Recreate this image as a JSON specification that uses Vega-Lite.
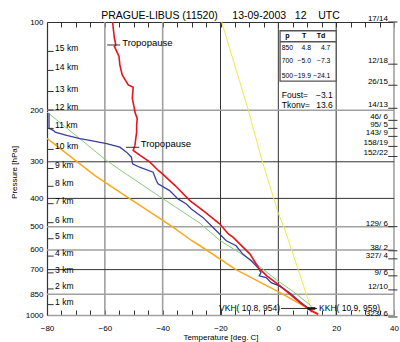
{
  "$schema": "https://vega.github.io/schema/vega-lite/v6.json",
  "width": 347,
  "height": 293,
  "autosize": {"type": "none"},
  "padding": {"left": 47, "top": 22, "right": 6, "bottom": 27},
  "background": "white",
  "config": {"view": {"stroke": null}, "font": "Liberation Sans", "text": {"font": "Liberation Sans", "color": "#000"}},
  "title": {"text": "PRAGUE-LIBUS (11520)\u00a0\u00a0\u00a0\u00a0\u00a013-09-2003\u00a0\u00a0\u00a012\u00a0\u00a0\u00a0\u00a0UTC", "fontSize": 10.5, "fontWeight": "normal", "font": "Liberation Sans", "color": "#000", "offset": -6, "frame": "group", "anchor": "middle"},
  "datasets": {
    "vg": [{"t": -60}, {"t": -40}, {"t": 40}],
    "vd": [{"t": -20}, {"t": 0}, {"t": 20}],
    "hg": [{"p": 200}, {"p": 500}, {"p": 600}, {"p": 850}],
    "hd": [{"p": 300}, {"p": 400}, {"p": 700}],
    "red": [{"t":-57.3,"p":100},{"t":-57.1,"p":104.8},{"t":-56.7,"p":113.4},{"t":-56.2,"p":119.6},{"t":-56.7,"p":121.1},{"t":-55.9,"p":126},{"t":-55.1,"p":131.1},{"t":-54.8,"p":140},{"t":-54.0,"p":151.5},{"t":-51.9,"p":163.9},{"t":-50.2,"p":167},{"t":-50.5,"p":182},{"t":-49.8,"p":197},{"t":-49.6,"p":202.9},{"t":-48.8,"p":213.7},{"t":-49.0,"p":225.3},{"t":-49.0,"p":237.5},{"t":-49.6,"p":263.8},{"t":-50.2,"p":274.4},{"t":-47.8,"p":285.4},{"t":-44.4,"p":300.9},{"t":-41.5,"p":321.2},{"t":-39.8,"p":331.6},{"t":-35.7,"p":361.6},{"t":-30.6,"p":406.9},{"t":-26.0,"p":440.5},{"t":-20.2,"p":489.2},{"t":-17.3,"p":529.2},{"t":-15.6,"p":543.6},{"t":-9.8,"p":619.7},{"t":-6.9,"p":688.6},{"t":-4.0,"p":735.2},{"t":0.6,"p":795.6},{"t":4.0,"p":849.4},{"t":7.5,"p":907.7},{"t":11.5,"p":969},{"t":13.8,"p":994.5}],
    "blue": [{"t":-79.3,"p":205},{"t":-79.3,"p":230.7},{"t":-77.8,"p":234.4},{"t":-77.2,"p":237.5},{"t":-73.2,"p":243.8},{"t":-68.6,"p":250.2},{"t":-65.2,"p":253.6},{"t":-59.4,"p":260.3},{"t":-54.8,"p":267.4},{"t":-52.5,"p":278.1},{"t":-50.8,"p":289.3},{"t":-50.4,"p":304.8},{"t":-48.0,"p":313.1},{"t":-43.3,"p":325.6},{"t":-42.2,"p":347.6},{"t":-41.6,"p":356.8},{"t":-37.6,"p":376.1},{"t":-34.7,"p":401.6},{"t":-31.8,"p":417.8},{"t":-30.1,"p":434.5},{"t":-26.1,"p":464.3},{"t":-23.2,"p":495.8},{"t":-20.3,"p":529.2},{"t":-18.0,"p":557.9},{"t":-14.6,"p":580.3},{"t":-12.3,"p":619.7},{"t":-9.4,"p":653.4},{"t":-7.1,"p":688.6},{"t":-6.0,"p":716.3},{"t":-6.6,"p":735.2},{"t":-4.2,"p":745.3},{"t":-2.5,"p":775.2},{"t":0.3,"p":795.6},{"t":3.8,"p":838.7},{"t":7.2,"p":895.6},{"t":10.7,"p":956.1},{"t":11.7,"p":976.5}],
    "green": [{"t":-80,"p":203},{"t":-59.4,"p":296.9},{"t":-54.8,"p":319.5},{"t":-41.0,"p":394.4},{"t":-27.1,"p":486},{"t":-20.2,"p":557},{"t":-8.6,"p":656.9},{"t":-0.6,"p":759.5},{"t":5.2,"p":832.6},{"t":11.0,"p":924.6},{"t":12.0,"p":960}],
    "orange": [{"t":-80,"p":249.3},{"t":-63.4,"p":334.2},{"t":-54.7,"p":381.3},{"t":-36.3,"p":502.3},{"t":-29.9,"p":557.9},{"t":-27.1,"p":580.3},{"t":-14.5,"p":701},{"t":0.6,"p":838.7},{"t":13.3,"p":986.8},{"t":13.6,"p":1000}],
    "yellow": [{"t":-19.6,"p":100},{"t":-10.4,"p":199.7},{"t":-5.7,"p":295.8},{"t":0,"p":449.6},{"t":2.3,"p":512.8},{"t":11.0,"p":930}],
    "km": [{"label":"15 km","p":126.0},{"label":"14 km","p":146.3},{"label":"13 km","p":172.7},{"label":"12 km","p":199.7},{"label":"11 km","p":230.7},{"label":"10 km","p":272.2},{"label":"9 km","p":316.2},{"label":"8 km","p":363.7},{"label":"7 km","p":416.9},{"label":"6 km","p":484.1},{"label":"5 km","p":549.2},{"label":"4 km","p":629.5},{"label":"3 km","p":718.1},{"label":"2 km","p":814.7},{"label":"1 km","p":921.7}],
    "wind": [{"label":"17/14","p":100},{"label":"12/18","p":139.3},{"label":"26/15","p":164.4},{"label":"14/13","p":197.0},{"label":"46/ 6","p":216.6},{"label":"95/ 5","p":230.7},{"label":"143/ 9","p":245.7},{"label":"158/19","p":265.8},{"label":"152/22","p":287.7},{"label":"129/ 6","p":499.4},{"label":"38/ 2","p":603.7},{"label":"327/ 4","p":643.2},{"label":"9/ 6","p":735.2},{"label":"12/10","p":821.1},{"label":"323/ 6","p":1015.8}],
    "tropo": [{"t1":-59.2,"t2":-54.7,"p":119.8,"tt":-54.0,"pt":118.2},{"t1":-52.7,"t2":-48.1,"p":267.7,"tt":-47.6,"pt":261.5}],
    "box": [{"t1":0.6,"t2":20.0,"p1":107.1,"p2":159.2,"ph":116.8}],
    "head": [{"label":"p","t":3.1},{"label":"T","t":8.9},{"label":"Td","t":14.8}],
    "rowsL": [{"label":"850","p":123.1},{"label":"700","p":136.0},{"label":"500","p":152.7}],
    "colT": [{"label":"4.8","p":123.1},{"label":"\u22125.0","p":136.0},{"label":"\u221219.9","p":152.7}],
    "colTd": [{"label":"4.7","p":123.1},{"label":"\u22127.3","p":136.0},{"label":"\u221224.1","p":152.7}],
    "idxL": [{"label":"Foust=","p":177.8},{"label":"Tkonv=","p":191.3}],
    "idxR": [{"label":"\u22123.1","p":177.8},{"label":"13.6","p":191.3}],
    "kh": [{"t1":0.9,"t2":13.4,"p":950,"m1":10.0,"m2":12.8}],
    "khL": [{"label":"VKH( 10.8, 954)","p":945}],
    "khR": [{"label":"KKH( 10.9, 959)","p":945}]
  },
  "layer": [
    {"data": {"name": "vg"}, "mark": {"type": "rule", "color": "#a0a0a0", "strokeWidth": 1.6},
     "encoding": {"x": {"field": "t", "type": "quantitative", "scale": {"domain": [-80, 40], "nice": false, "zero": false},
       "axis": {"orient": "top", "values": [-80,-75,-70,-65,-60,-55,-50,-45,-40,-35,-30,-25,-20,-15,-10,-5,0,5,10,15,20,25,30,35,40], "labels": false, "tickSize": -5, "tickColor": "#333", "domainColor": "#333", "domainWidth": 1.2, "grid": false, "title": null}}}},
    {"data": {"name": "vd"}, "mark": {"type": "rule", "color": "#333", "strokeWidth": 1},
     "encoding": {"x": {"field": "t", "type": "quantitative", "scale": {"domain": [-80, 40], "nice": false, "zero": false}, "axis": null}}},
    {"data": {"name": "hg"}, "mark": {"type": "rule", "color": "#a0a0a0", "strokeWidth": 1.6},
     "encoding": {"y": {"field": "p", "type": "quantitative", "scale": {"type": "log", "domain": [100, 1000], "reverse": true, "nice": false}, "axis": null}}},
    {"data": {"name": "hd"}, "mark": {"type": "rule", "color": "#333", "strokeWidth": 1},
     "encoding": {"y": {"field": "p", "type": "quantitative", "scale": {"type": "log", "domain": [100, 1000], "reverse": true, "nice": false}, "axis": null}}},
    {"data": {"name": "yellow"}, "mark": {"type": "line", "color": "#f2e84a", "strokeWidth": 1, "clip": true},
     "encoding": {"x": {"field": "t", "type": "quantitative", "axis": null}, "y": {"field": "p", "type": "quantitative", "axis": null}, "order": {"field": "p", "type": "quantitative"}}},
    {"data": {"name": "orange"}, "mark": {"type": "line", "color": "#f7a81c", "strokeWidth": 1.5, "clip": true},
     "encoding": {"x": {"field": "t", "type": "quantitative", "axis": null}, "y": {"field": "p", "type": "quantitative", "axis": null}, "order": {"field": "p", "type": "quantitative"}}},
    {"data": {"name": "green"}, "mark": {"type": "line", "color": "#86cc78", "strokeWidth": 1, "clip": true},
     "encoding": {"x": {"field": "t", "type": "quantitative", "axis": null}, "y": {"field": "p", "type": "quantitative", "axis": null}, "order": {"field": "p", "type": "quantitative"}}},
    {"data": {"name": "blue"}, "mark": {"type": "line", "color": "#3a3f9c", "strokeWidth": 1.3, "clip": true},
     "encoding": {"x": {"field": "t", "type": "quantitative", "axis": null}, "y": {"field": "p", "type": "quantitative", "axis": null}, "order": {"field": "p", "type": "quantitative"}}},
    {"data": {"name": "red"}, "mark": {"type": "line", "color": "#e8141c", "strokeWidth": 1.6, "clip": true},
     "encoding": {
       "x": {"field": "t", "type": "quantitative", "scale": {"domain": [-80, 40], "nice": false, "zero": false},
         "axis": {"orient": "bottom", "values": [-80,-75,-70,-65,-60,-55,-50,-45,-40,-35,-30,-25,-20,-15,-10,-5,0,5,10,15,20,25,30,35,40], "format": "d", "labelExpr": "datum.value % 20 === 0 ? datum.label : ''", "labelFlush": false, "labelOverlap": false, "tickSize": -5, "tickColor": "#333", "domainColor": "#a0a0a0", "domainWidth": 1.6, "labelFontSize": 8, "labelFont": "Liberation Sans", "labelColor": "#000", "labelPadding": 14, "grid": false, "title": "Temperature [deg. C]", "titleFontSize": 8, "titleFontWeight": "normal", "titleFont": "Liberation Sans", "titleColor": "#000", "titlePadding": 1}},
       "y": {"field": "p", "type": "quantitative", "scale": {"type": "log", "domain": [100, 1000], "reverse": true, "nice": false},
         "axis": {"orient": "left", "values": [100,200,300,400,500,600,700,850,1000], "format": "d", "ticks": false, "domainColor": "#333", "domainWidth": 1.2, "labelFontSize": 8, "labelFont": "Liberation Sans", "labelColor": "#000", "labelPadding": 4, "labelOverlap": false, "grid": false, "title": "Pressure [hPa]", "titleFontSize": 8, "titleFontWeight": "normal", "titleFont": "Liberation Sans", "titleColor": "#000", "titleX": -29, "titleY": 150, "titleBaseline": "bottom", "titleAngle": -90, "titleAlign": "center"}},
       "order": {"field": "p", "type": "quantitative"}}},
    {"data": {"name": "tropo"}, "mark": {"type": "rule", "color": "#333", "strokeWidth": 1},
     "encoding": {"x": {"field": "t1", "type": "quantitative", "axis": null}, "x2": {"field": "t2"}, "y": {"field": "p", "type": "quantitative", "axis": null}}},
    {"data": {"name": "tropo"}, "mark": {"type": "text", "align": "left", "baseline": "middle", "fontSize": 9.5},
     "encoding": {"x": {"field": "tt", "type": "quantitative", "axis": null}, "y": {"field": "pt", "type": "quantitative", "axis": null}, "text": {"value": "Tropopause"}}},
    {"data": {"name": "km"}, "mark": {"type": "rule", "color": "#333", "strokeWidth": 1},
     "encoding": {"x": {"datum": -80, "type": "quantitative", "axis": null}, "x2": {"datum": -77.7}, "y": {"field": "p", "type": "quantitative", "axis": null}}},
    {"data": {"name": "km"}, "mark": {"type": "text", "align": "left", "baseline": "alphabetic", "fontSize": 8.5},
     "encoding": {"x": {"datum": -77.2, "type": "quantitative", "axis": null}, "y": {"field": "p", "type": "quantitative", "axis": null}, "text": {"field": "label"}}},
    {"data": {"name": "wind"}, "mark": {"type": "rule", "color": "#333", "strokeWidth": 1},
     "encoding": {"x": {"datum": 38.0, "type": "quantitative", "axis": null}, "x2": {"datum": 41.2}, "y": {"field": "p", "type": "quantitative", "axis": null}}},
    {"data": {"name": "wind"}, "mark": {"type": "text", "align": "right", "baseline": "alphabetic", "fontSize": 8, "dy": -1},
     "encoding": {"x": {"datum": 37.9, "type": "quantitative", "axis": null}, "y": {"field": "p", "type": "quantitative", "axis": null}, "text": {"field": "label"}}},
    {"data": {"name": "box"}, "mark": {"type": "rect", "fill": "white", "stroke": "#555", "strokeWidth": 1.3},
     "encoding": {"x": {"field": "t1", "type": "quantitative", "axis": null}, "x2": {"field": "t2"}, "y": {"field": "p1", "type": "quantitative", "axis": null}, "y2": {"field": "p2"}}},
    {"data": {"name": "box"}, "mark": {"type": "rule", "color": "#555", "strokeWidth": 1.3},
     "encoding": {"x": {"field": "t1", "type": "quantitative", "axis": null}, "x2": {"field": "t2"}, "y": {"field": "ph", "type": "quantitative", "axis": null}}},
    {"data": {"name": "head"}, "mark": {"type": "text", "align": "center", "baseline": "middle", "fontSize": 7, "fontWeight": "bold"},
     "encoding": {"x": {"field": "t", "type": "quantitative", "axis": null}, "y": {"datum": 111.4, "type": "quantitative", "axis": null}, "text": {"field": "label"}}},
    {"data": {"name": "rowsL"}, "mark": {"type": "text", "align": "left", "baseline": "middle", "fontSize": 6.8},
     "encoding": {"x": {"datum": 1.2, "type": "quantitative", "axis": null}, "y": {"field": "p", "type": "quantitative", "axis": null}, "text": {"field": "label"}}},
    {"data": {"name": "colT"}, "mark": {"type": "text", "align": "right", "baseline": "middle", "fontSize": 6.8},
     "encoding": {"x": {"datum": 11.3, "type": "quantitative", "axis": null}, "y": {"field": "p", "type": "quantitative", "axis": null}, "text": {"field": "label"}}},
    {"data": {"name": "colTd"}, "mark": {"type": "text", "align": "right", "baseline": "middle", "fontSize": 6.8},
     "encoding": {"x": {"datum": 18.0, "type": "quantitative", "axis": null}, "y": {"field": "p", "type": "quantitative", "axis": null}, "text": {"field": "label"}}},
    {"data": {"name": "idxL"}, "mark": {"type": "text", "align": "left", "baseline": "middle", "fontSize": 8.5},
     "encoding": {"x": {"datum": 1.2, "type": "quantitative", "axis": null}, "y": {"field": "p", "type": "quantitative", "axis": null}, "text": {"field": "label"}}},
    {"data": {"name": "idxR"}, "mark": {"type": "text", "align": "right", "baseline": "middle", "fontSize": 8.5},
     "encoding": {"x": {"datum": 18.8, "type": "quantitative", "axis": null}, "y": {"field": "p", "type": "quantitative", "axis": null}, "text": {"field": "label"}}},
    {"data": {"name": "kh"}, "mark": {"type": "rule", "color": "#333", "strokeWidth": 1},
     "encoding": {"x": {"field": "t1", "type": "quantitative", "axis": null}, "x2": {"field": "t2"}, "y": {"field": "p", "type": "quantitative", "axis": null}}},
    {"data": {"name": "kh"}, "mark": {"type": "rule", "color": "#111", "strokeWidth": 2.5},
     "encoding": {"x": {"field": "m1", "type": "quantitative", "axis": null}, "x2": {"field": "m2"}, "y": {"field": "p", "type": "quantitative", "axis": null}}},
    {"data": {"name": "khL"}, "mark": {"type": "text", "align": "right", "baseline": "middle", "fontSize": 8.5},
     "encoding": {"x": {"datum": 0.6, "type": "quantitative", "axis": null}, "y": {"field": "p", "type": "quantitative", "axis": null}, "text": {"field": "label"}}},
    {"data": {"name": "khR"}, "mark": {"type": "text", "align": "left", "baseline": "middle", "fontSize": 8.5},
     "encoding": {"x": {"datum": 14.1, "type": "quantitative", "axis": null}, "y": {"field": "p", "type": "quantitative", "axis": null}, "text": {"field": "label"}}}
  ],
  "resolve": {"axis": {"x": "independent", "y": "independent"}}
}
